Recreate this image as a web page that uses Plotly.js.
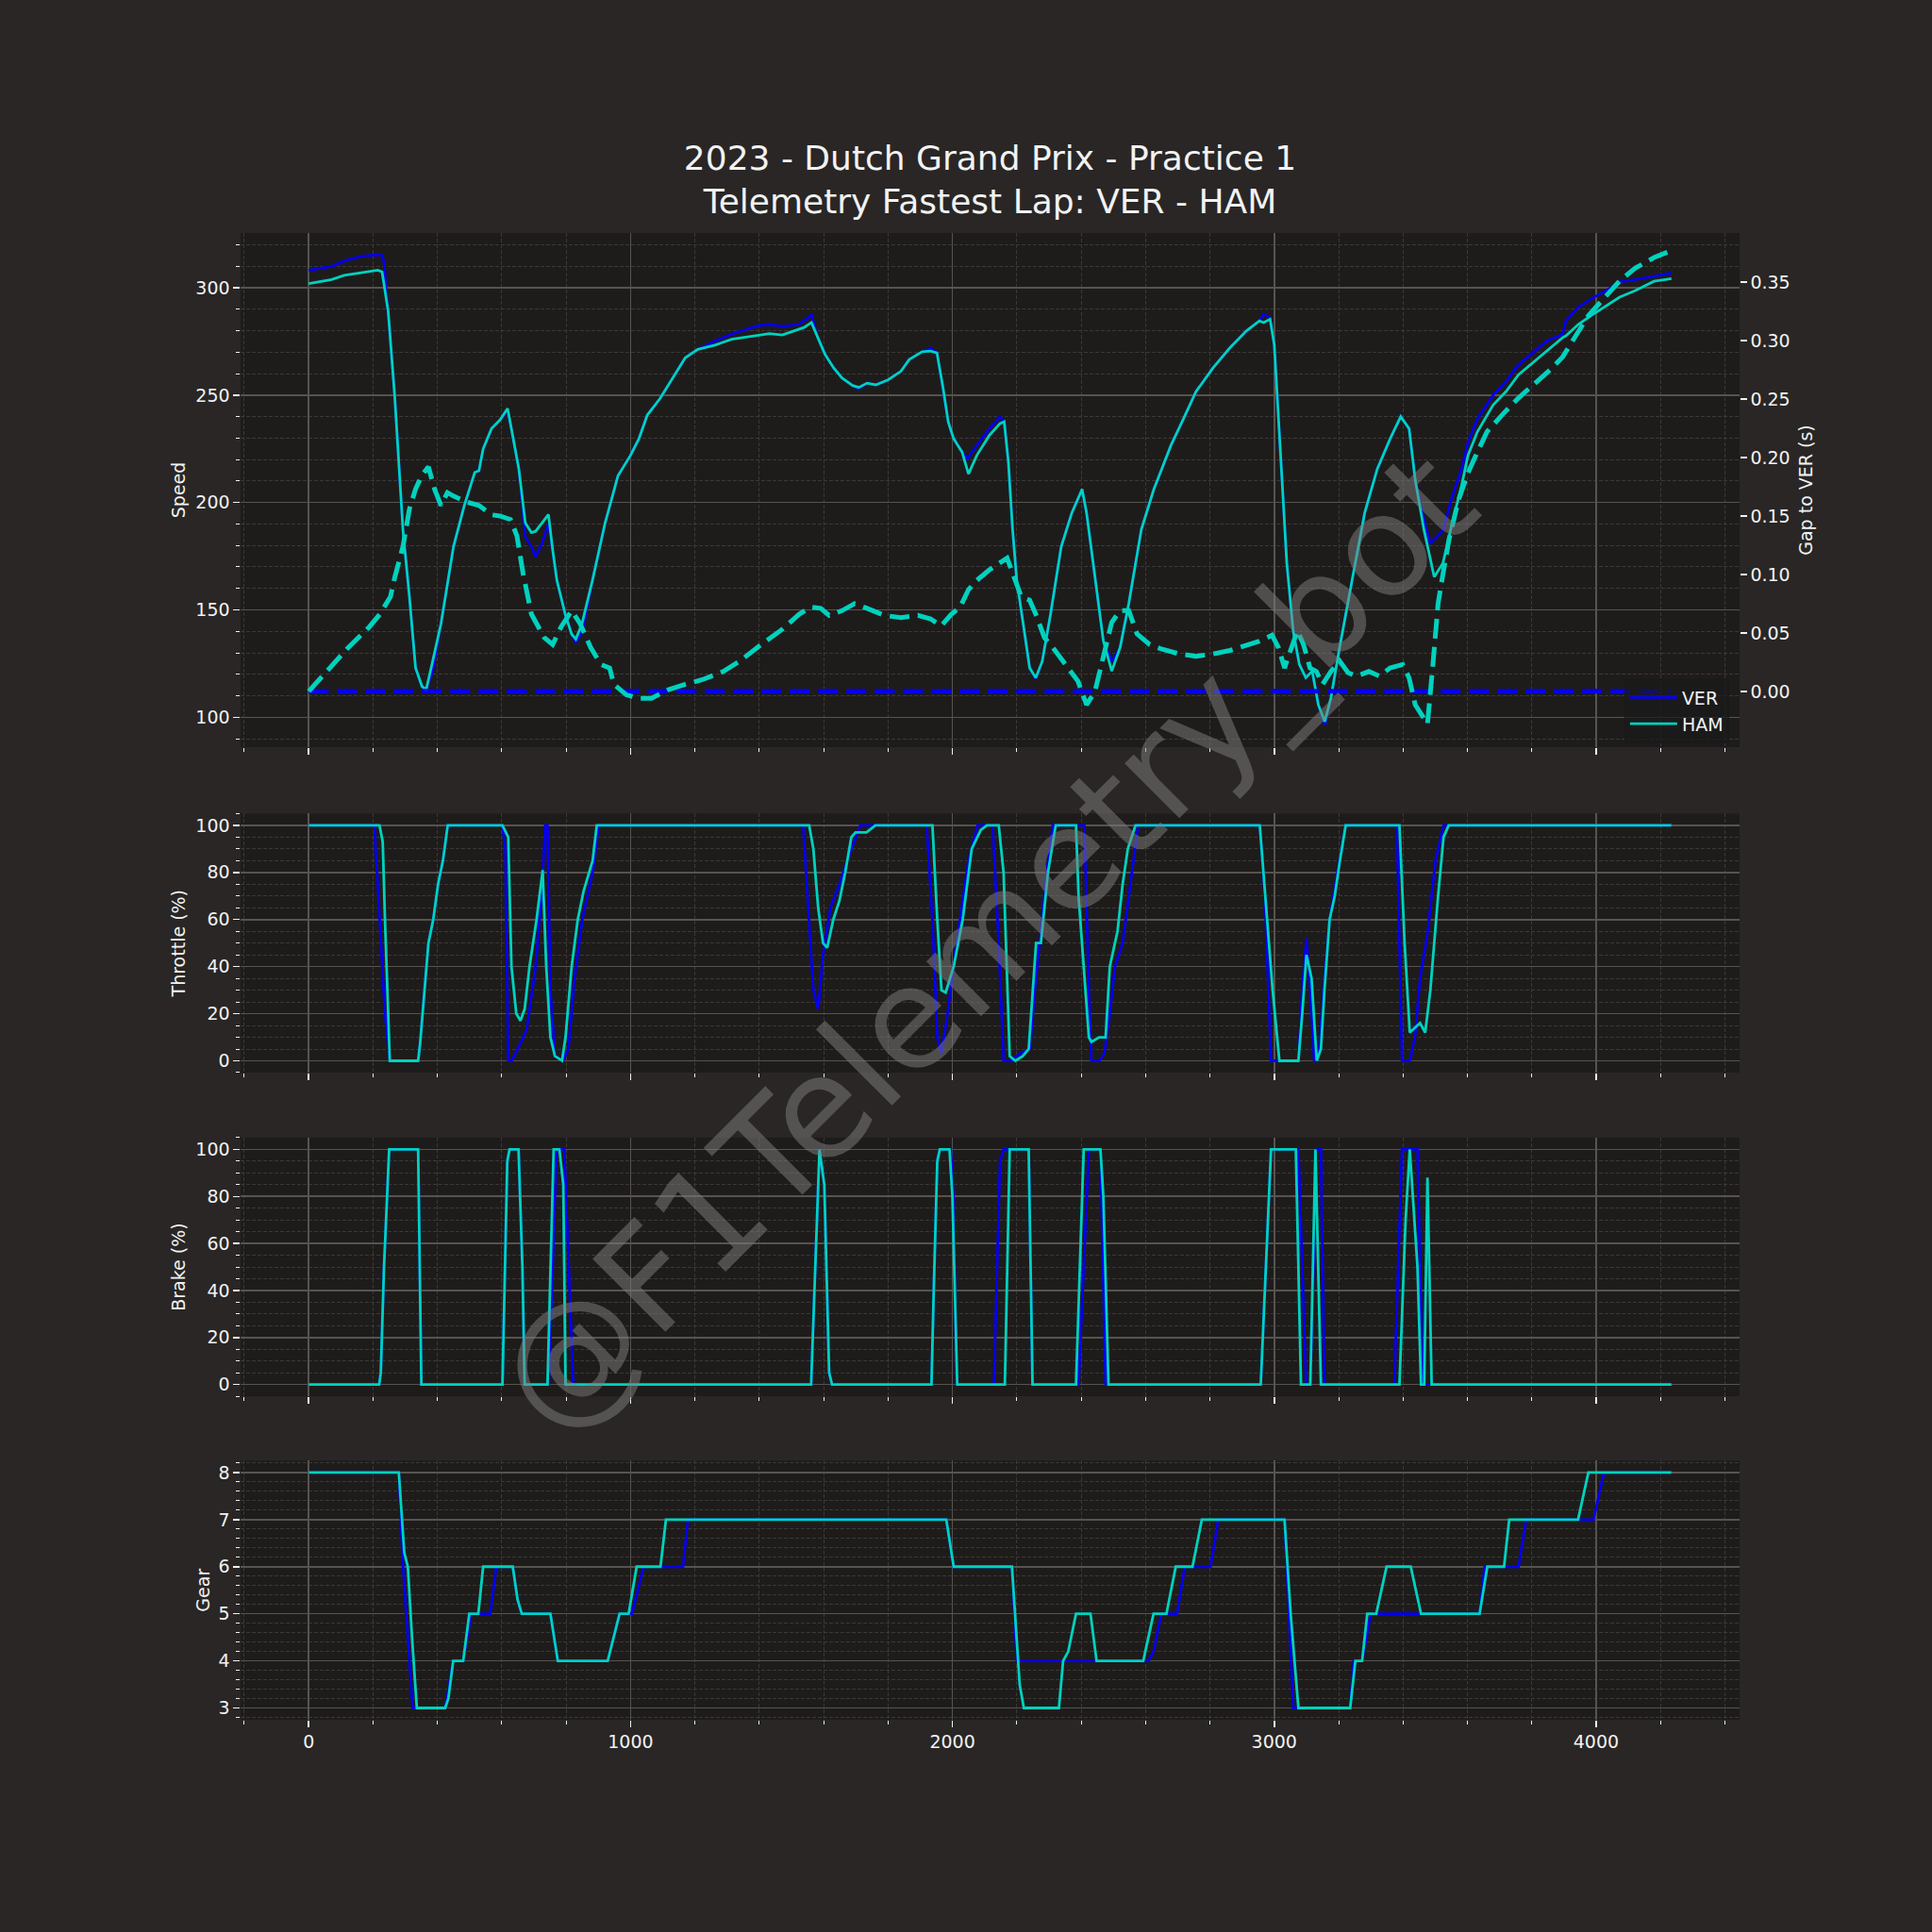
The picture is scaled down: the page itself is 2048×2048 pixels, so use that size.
<!DOCTYPE html>
<html>
<head>
<meta charset="utf-8">
<script src="https://cdn.plot.ly/plotly-3.0.1.min.js"></script>
<style>html,body{margin:0;padding:0;background:#292625;}</style>
</head>
<body>
<div id="chart" style="width:2048px;height:2048px;"></div>
<script>
// ---------------- DATA ----------------
const drivers = ['VER', 'HAM'];
const driverColors = {VER: '#0600ef', HAM: '#00d2be'};

// Speed (km/h) vs distance (m)
const speedDistVER = [0,71,110,162,215,228,234,247,267,280,293,313,332,352,365,385,411,450,483,516,529,542,568,594,618,634,653,673,692,705,725,745,758,771,797,817,830,849,882,921,961,1000,1026,1052,1092,1131,1170,1209,1262,1314,1393,1432,1471,1524,1539,1562,1578,1604,1631,1657,1690,1709,1735,1762,1801,1840,1866,1906,1932,1952,1971,1987,2004,2030,2045,2076,2115,2148,2161,2174,2187,2200,2220,2240,2259,2279,2305,2338,2371,2403,2417,2443,2469,2495,2521,2548,2587,2626,2679,2718,2757,2810,2862,2914,2954,2967,2987,3000,3019,3039,3059,3078,3098,3118,3137,3157,3176,3203,3242,3281,3320,3360,3393,3419,3438,3465,3484,3524,3553,3582,3602,3631,3680,3720,3759,3808,3847,3896,3906,3945,3984,4024,4073,4122,4180,4234];
const speedVER = [308.2,310,312.5,314.7,315.4,315,312,289,250,218.7,187,156,123,114.4,112.9,121.5,143.5,179.5,198.4,214,214.8,225,234.4,238.4,243,231,215.6,184,179.5,174.8,181,190.5,178,163.8,148,138.7,134.8,139.5,164,190.5,212.5,222,229.7,240.7,248.5,258,267.4,271.3,275.2,278.4,282.3,283,282,283,284.6,287.5,278.4,269,262.7,258,254.5,253,255.6,254.8,257.2,261.1,266.6,270.2,272,269.7,253.3,237.6,229.7,223.5,220.3,226.6,234.4,240,237.6,218.7,187.4,163.8,143.5,123,118,126,148,179.4,195.2,206.2,195,164,135.6,126,132.4,153,187.4,206.2,226.6,239,251.7,262.7,272,280,284.6,287.8,286,273.6,226.6,171.7,140,124.6,118.4,121.5,105.8,96.4,109,132.4,164,195.2,215.6,229.7,240,234.4,210.6,192,181,187,203,215.6,228,239,250,256.4,264.2,270.5,275.2,278.4,284.6,291,294.8,298,302.7,303.8,305.3,306.9];
const speedDistHAM = [0,71,110,162,215,228,234,247,267,280,293,313,332,352,365,385,411,450,483,516,529,542,568,594,618,634,653,673,692,705,725,745,758,771,797,817,830,849,882,921,961,1000,1026,1052,1092,1131,1170,1209,1262,1314,1393,1432,1471,1524,1539,1562,1578,1604,1631,1657,1690,1709,1735,1762,1801,1840,1866,1906,1932,1952,1971,1987,2004,2030,2050,2076,2115,2148,2161,2174,2187,2200,2220,2240,2259,2279,2305,2338,2371,2403,2417,2443,2469,2495,2521,2548,2587,2626,2679,2718,2757,2810,2862,2914,2954,2967,2987,3000,3019,3039,3059,3078,3098,3118,3137,3157,3176,3203,3242,3281,3320,3360,3393,3419,3438,3465,3497,3524,3553,3582,3602,3631,3680,3720,3759,3808,3847,3896,3906,3945,3984,4024,4073,4122,4180,4234];
const speedHAM = [301.9,303.8,305.8,307,308.2,307.4,302,289,250,218.7,187,156,123,114.4,112.9,126,143.5,179.5,198.4,214,214.8,225,234.4,238.4,243.8,231,215.6,190.5,186,186.6,190.5,194.4,178,163.8,148,138.7,136.4,143.5,164,190.5,212.5,222,229.7,240.7,248.5,258,267.4,271.3,273.3,276,278,278.7,278,280.7,281.5,283.8,278.4,269,262.7,258,254.5,253.6,255.6,254.8,257.2,261.1,266.6,270.2,270.5,269.7,253.3,237.6,229.7,223.5,213.3,222,231.3,236.8,237.6,218.7,187.4,163.8,143.5,123,118.4,126,148,179.4,195.2,206.2,195,164,135.6,121.5,132.4,153,187.4,206.2,226.6,239,251.7,262.7,272,280,284.6,283.8,285.4,273.6,226.6,171.7,140,124.6,118.4,121.5,105.8,98,109,132.4,164,195.2,215.6,229.7,240,234.4,210.6,187.4,165.4,171.7,190.5,207.8,222,232.9,245.4,251.7,259.5,265.8,270.5,276.8,277.6,283,287,290.9,295.6,298.7,303,304.2];

// Gap to VER (s)
const gapDistVER = [0, 4234];
const gapVER = [0, 0];
const gapDistHAM = [0,58,123,188,221,254,267,293,313,332,352,372,391,411,431,450,490,529,568,594,627,647,666,692,732,758,784,817,843,876,908,935,948,987,1026,1065,1118,1170,1223,1288,1340,1406,1471,1524,1559,1591,1617,1657,1696,1735,1788,1840,1893,1932,1965,1997,2024,2050,2076,2115,2155,2170,2187,2214,2240,2259,2286,2312,2351,2390,2417,2443,2476,2495,2521,2548,2574,2613,2652,2705,2757,2810,2862,2914,2954,2993,3013,3032,3052,3072,3091,3111,3131,3150,3176,3203,3229,3255,3294,3327,3360,3399,3419,3438,3465,3476,3493,3509,3524,3543,3573,3602,3631,3661,3710,3759,3808,3857,3896,3935,3975,4024,4073,4122,4180,4234];
const gapHAM = [0,0.017,0.0375,0.055,0.066,0.081,0.097,0.124,0.156,0.173,0.185,0.192,0.173,0.159,0.170,0.167,0.162,0.159,0.151,0.150,0.147,0.133,0.101,0.066,0.046,0.040,0.055,0.069,0.058,0.0375,0.023,0.020,0.006,-0.003,-0.006,-0.006,0.0015,0.006,0.010,0.017,0.026,0.040,0.053,0.066,0.072,0.071,0.065,0.069,0.075,0.071,0.065,0.063,0.065,0.062,0.056,0.066,0.072,0.087,0.095,0.104,0.111,0.114,0.101,0.081,0.078,0.066,0.046,0.0375,0.023,0.0087,-0.0115,0,0.0375,0.059,0.069,0.069,0.049,0.040,0.036,0.032,0.030,0.032,0.035,0.039,0.043,0.048,0.0375,0.020,0.0375,0.052,0.040,0.020,0.017,0.006,0.017,0.026,0.016,0.013,0.017,0.013,0.020,0.023,0.0115,-0.0115,-0.023,-0.028,0.023,0.075,0.100,0.130,0.164,0.187,0.2045,0.222,0.237,0.251,0.263,0.275,0.286,0.304,0.321,0.336,0.351,0.362,0.371,0.377];

// Throttle (%)
const throttleDistVER = [0,204,237,252,340,346,359,372,387,402,417,432,602,611,620,630,649,677,705,723,735,742,751,765,789,807,826,850,882,901,1536,1555,1568,1583,1598,1621,1649,1686,1714,1920,1938,1953,1966,1985,2013,2050,2078,2125,2144,2159,2181,2209,2241,2256,2271,2293,2312,2410,2424,2432,2456,2472,2489,2505,2529,2553,2577,2955,2971,2990,3075,3087,3100,3112,3124,3132,3140,3156,3172,3196,3222,3381,3397,3421,3437,3453,3477,3501,3526,4234];
const throttleVER = [100,100,20,0,0,7,30,50,60,75,85,100,100,90,0,0,5,13,40,70,100,100,30,2,0,5,35,60,80,100,100,60,30,22,45,65,75,90,100,100,60,10,3,20,50,85,100,100,50,0,0,3,5,30,50,80,100,100,30,0,0,3,20,40,50,75,100,100,70,0,0,30,52,30,0,0,5,35,60,80,100,100,0,0,10,35,55,85,100,100];
const throttleDistHAM = [0,220,230,237,252,340,346,359,372,387,402,417,432,602,620,630,645,658,671,686,708,727,738,751,765,787,798,817,836,854,882,895,1555,1568,1583,1598,1611,1630,1649,1667,1686,1699,1733,1761,1938,1953,1966,1979,2004,2032,2060,2088,2107,2144,2159,2178,2196,2219,2237,2260,2275,2297,2321,2384,2392,2408,2424,2432,2456,2476,2489,2513,2529,2545,2569,2955,2995,3016,3075,3087,3100,3116,3132,3145,3156,3172,3188,3204,3222,3389,3405,3421,3437,3453,3469,3485,3509,3526,3542,4234];
const throttleHAM = [100,100,93,60,0,0,7,30,50,60,75,85,100,100,95,40,20,17,22,40,60,81,40,10,2,0,10,40,60,72,85,100,100,90,65,50,48,60,68,80,95,97,97,100,100,60,30,29,40,60,90,98,100,100,80,2,0,2,5,50,50,80,100,100,70,40,10,8,10,10,40,55,75,90,100,100,30,0,0,20,45,35,0,5,30,60,70,85,100,100,50,12,14,16,12,30,70,95,100,100];

// Brake (%)
const brakeDistVER = [0,219,224,234,250,340,350,602,617,624,652,664,671,746,770,794,822,1561,1574,1587,1602,1617,1626,1935,1942,1953,1961,1995,2003,2013,2129,2148,2159,2237,2249,2392,2424,2460,2476,2958,2990,3075,3099,3112,3132,3145,3156,3373,3397,3445,3461,4234];
const brakeVER = [0,0,5,50,100,100,0,0,95,100,100,50,0,0,100,100,0,0,50,100,85,5,0,0,40,95,100,100,80,0,0,95,100,100,0,0,100,100,0,0,100,100,0,0,100,100,0,0,100,100,0,0];
const brakeDistHAM = [0,219,224,234,250,340,350,602,617,624,652,664,671,742,761,779,791,798,1561,1574,1587,1602,1617,1626,1935,1942,1953,1961,1991,2000,2015,2163,2178,2237,2249,2384,2408,2460,2469,2485,2958,2990,3067,3083,3112,3128,3145,3389,3408,3421,3445,3456,3466,3476,3489,4234];
const brakeHAM = [0,0,5,50,100,100,0,0,95,100,100,50,0,0,100,100,85,0,0,50,100,85,5,0,0,40,95,100,100,80,0,0,100,100,0,0,100,100,80,0,0,100,100,0,0,100,0,0,70,100,50,0,0,88,0,0];

// Gear
const gearDistVER = [0,280,293,308,323,424,449,480,505,564,583,634,649,662,751,774,929,966,1004,1041,1163,1178,1981,2004,2185,2200,2609,2625,2649,2698,2722,2802,2826,3032,3059,3236,3247,3273,3300,3638,3654,3759,3783,3992,4024,4234];
const gearVER = [8,8,6,4.5,3,3,4,4,5,5,6,6,5.3,5,5,4,4,5,5,6,6,7,7,6,6,4,4,4.2,5,5,6,6,7,7,3,3,4,4,5,5,6,6,7,7,8,8];
const gearDistHAM = [0,280,297,308,321,336,424,434,449,480,499,527,542,634,649,662,751,774,929,966,994,1019,1093,1110,1981,2004,2185,2209,2222,2331,2344,2360,2384,2429,2448,2593,2625,2665,2694,2746,2775,3032,3051,3075,3236,3252,3273,3289,3317,3349,3424,3456,3638,3662,3714,3730,3944,3976,4234];
const gearHAM = [8,8,6.3,6,4.5,3,3,3.2,4,4,5,5,6,6,5.3,5,5,4,4,5,5,6,6,7,7,6,6,3.5,3,3,4,4.2,5,5,4,4,5,5,6,6,7,7,5,3,3,4,4,5,5,6,6,5,5,6,6,7,7,8,8];

// Texts
const titleText = '2023 - Dutch Grand Prix - Practice 1<br>Telemetry Fastest Lap: VER - HAM';
const watermarkText = '@F1Telemetry_bot';
const axisTitles = {speed: 'Speed', gap: 'Gap to VER (s)', throttle: 'Throttle (%)', brake: 'Brake (%)', gear: 'Gear'};

// ---------------- STYLE ----------------
const FONT = 'DejaVu Sans, Liberation Sans, sans-serif';
const TXT = '#f1f2f3';
const FS = 19;
const tickFont = {family: FONT, size: FS, color: TXT};
const XRANGE = [-211.7, 4445.7];

function lineTrace(x, y, drv, xa, ya, opts) {
  opts = opts || {};
  return {
    type: 'scatter', mode: 'lines', x: x, y: y, name: drv,
    xaxis: xa, yaxis: ya,
    line: {color: driverColors[drv], width: opts.width || 2.8, dash: opts.dash || 'solid'},
    showlegend: !!opts.legend, hoverinfo: 'skip'
  };
}

const traces = [
  lineTrace(speedDistVER, speedVER, 'VER', 'x', 'y', {legend: true}),
  lineTrace(speedDistHAM, speedHAM, 'HAM', 'x', 'y', {legend: true}),
  lineTrace(gapDistVER, gapVER, 'VER', 'x', 'y5', {width: 5, dash: '21px,9px'}),
  lineTrace(gapDistHAM, gapHAM, 'HAM', 'x', 'y5', {width: 5, dash: '21px,9px'}),
  lineTrace(throttleDistVER, throttleVER, 'VER', 'x2', 'y2'),
  lineTrace(throttleDistHAM, throttleHAM, 'HAM', 'x2', 'y2'),
  lineTrace(brakeDistVER, brakeVER, 'VER', 'x3', 'y3'),
  lineTrace(brakeDistHAM, brakeHAM, 'HAM', 'x3', 'y3'),
  lineTrace(gearDistVER, gearVER, 'VER', 'x4', 'y4'),
  lineTrace(gearDistHAM, gearHAM, 'HAM', 'x4', 'y4')
];

const MAJ_GRID = '#57534f';
const MIN_GRID = '#3b3837';

function xAx(anchor, labels) {
  return {
    anchor: anchor, range: XRANGE, tick0: 0, dtick: 1000,
    ticks: 'outside', ticklen: 6.6, tickwidth: 1.5, tickcolor: TXT,
    showticklabels: labels, tickfont: tickFont,
    showgrid: true, gridcolor: MAJ_GRID, gridwidth: 1.6,
    zeroline: false, showline: false,
    minor: {tick0: 0, dtick: 200, ticks: 'outside', ticklen: 3.8, tickwidth: 1, tickcolor: TXT,
            showgrid: true, gridcolor: MIN_GRID, gridwidth: 1, griddash: '4px,2px'}
  };
}
function yAx(anchor, domain, range, dtick, mdtick, title, standoff) {
  return {
    anchor: anchor, domain: domain, range: range, tick0: 0, dtick: dtick,
    ticks: 'outside', ticklen: 6.6, tickwidth: 1.5, tickcolor: TXT, tickfont: tickFont,
    showgrid: true, gridcolor: MAJ_GRID, gridwidth: 1.6,
    zeroline: false, showline: false,
    title: {text: title, font: {family: FONT, size: FS, color: TXT}, standoff: standoff},
    minor: {tick0: 0, dtick: mdtick, ticks: 'outside', ticklen: 3.8, tickwidth: 1, tickcolor: TXT,
            showgrid: true, gridcolor: MIN_GRID, gridwidth: 1, griddash: '4px,2px'}
  };
}

const layout = {
  width: 2048, height: 2048,
  paper_bgcolor: '#292625', plot_bgcolor: '#1e1c1b',
  margin: {l: 255, r: 204, t: 247, b: 225, pad: 0},
  font: {family: FONT, color: TXT, size: FS},
  title: {
    text: titleText, font: {family: FONT, size: 36, color: TXT},
    xref: 'paper', x: 0.5, xanchor: 'center',
    yref: 'container', y: 1 - 179.5 / 2048, yanchor: 'middle'
  },
  xaxis: xAx('y', false),
  xaxis2: Object.assign(xAx('y2', false), {matches: 'x'}),
  xaxis3: Object.assign(xAx('y3', false), {matches: 'x'}),
  xaxis4: Object.assign(xAx('y4', true), {matches: 'x'}),
  yaxis: yAx('x', [0.6542, 1], [86.1, 325.5], 50, 10, axisTitles.speed, 5),
  yaxis2: yAx('x2', [0.4353, 0.6095], [-5, 105], 20, 5, axisTitles.throttle, 5),
  yaxis3: yAx('x3', [0.2176, 0.3915], [-5, 105], 20, 5, axisTitles.brake, 5),
  yaxis4: yAx('x4', [0, 0.1742], [2.75, 8.25], 1, 0.2, axisTitles.gear, 3),
  yaxis5: {
    overlaying: 'y', side: 'right', anchor: 'x', range: [-0.0477, 0.392],
    tick0: 0, dtick: 0.05, tickformat: '.2f',
    ticks: 'outside', ticklen: 6.6, tickwidth: 1.5, tickcolor: TXT, tickfont: tickFont,
    showgrid: false, zeroline: false, showline: false,
    title: {text: axisTitles.gap, font: {family: FONT, size: FS, color: TXT}, standoff: 10}
  },
  showlegend: true,
  legend: {
    x: 0.993, xanchor: 'right', y: 0.657, yanchor: 'bottom',
    bgcolor: 'rgba(25,25,25,0.7)', bordercolor: 'rgba(25,25,25,0.9)', borderwidth: 1,
    font: {family: FONT, size: FS, color: TXT}, traceorder: 'normal', itemwidth: 50
  },
  annotations: [{
    text: watermarkText, xref: 'paper', yref: 'paper', x: 0.497, y: 0.523,
    xanchor: 'center', yanchor: 'middle', showarrow: false, textangle: -45,
    font: {family: FONT, size: 150, color: 'rgba(128,128,128,0.5)'}
  }]
};

Plotly.newPlot('chart', traces, layout, {staticPlot: true, displayModeBar: false});
</script>
</body>
</html>
